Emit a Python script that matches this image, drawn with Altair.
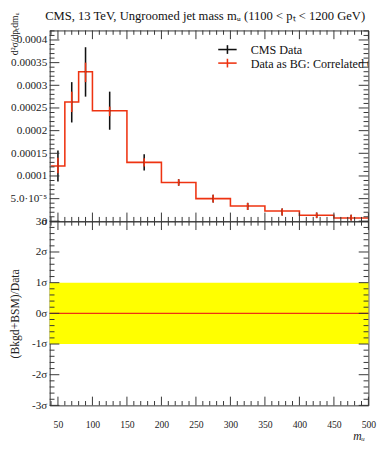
import altair as alt
import pandas as pd

# ---------------- data ----------------
bin_lo = [40, 60, 80, 100, 150, 200, 250, 300, 350, 400, 450]
bin_hi = [60, 80, 100, 150, 200, 250, 300, 350, 400, 450, 500]
bg_val = [0.000122, 0.000263, 0.000330, 0.000244, 0.000130, 0.0000857,
          0.0000500, 0.0000336, 0.0000229, 0.0000135, 0.0000071]
cms_lo = [0.000088, 0.000218, 0.000275, 0.000202, 0.000112, 0.0000786,
          0.0000414, 0.0000250, 0.0000129, 0.0000071, 0.0000020]
cms_hi = [0.000156, 0.000307, 0.000384, 0.000286, 0.000148, 0.0000928,
          0.0000585, 0.0000407, 0.0000285, 0.0000193, 0.0000143]
bg_lo = [0.000106, 0.000241, 0.000307, 0.000232, 0.000121, 0.0000786,
         0.0000414, 0.0000250, 0.0000129, 0.0000071, 0.0000020]
bg_hi = [0.000140, 0.000286, 0.000350, 0.000253, 0.000139, 0.0000928,
         0.0000585, 0.0000407, 0.0000285, 0.0000193, 0.0000143]

band_lo = [-1]
band_hi = [1]
ratio_zero = [0]

legend_labels = ["CMS Data", "Data as BG: Correlated 0%"]
title_text = "CMS, 13 TeV, Ungroomed jet mass m\u1d64 (1100 < p\u209c < 1200 GeV)"
top_ytitle = "d\u00b2\u03c3/dp\u209cdm\u1d64"
bot_ytitle = "(Bkgd+BSM)/Data"
xtitle = "m\u1d64"

x_major = [50, 100, 150, 200, 250, 300, 350, 400, 450, 500]
x_minor = [v for v in range(40, 501, 10) if v % 50]
top_major = [0.0, 0.00005, 0.0001, 0.00015, 0.0002, 0.00025, 0.0003, 0.00035, 0.0004]
top_minor = [i * 0.00001 for i in range(0, 43) if i % 5]
bot_major = [-3, -2, -1, 0, 1, 2, 3]
bot_minor = [round(-3 + 0.2 * i, 2) for i in range(31) if i % 5]

# ---------------- style ----------------
FONT = "Liberation Serif"
RED = "#EE3311"
BLACK = "#111111"
TICK = "#333333"
W, HT, HB = 329, 197, 190

xs = alt.Scale(domain=[38, 500], nice=False, zero=False)
ys_top = alt.Scale(domain=[0, 0.000421], nice=False, zero=False)
ys_bot = alt.Scale(domain=[-3, 3], nice=False, zero=False)

top_axis = alt.Axis(
    values=top_major,
    labelExpr="datum.value == 0 ? '0' : (abs(datum.value - 0.00005) < 1e-9 ? '5.0\u00b710\u207b\u2075' : format(datum.value, '~g'))",
    ticks=False, domain=False, grid=False,
    labelFont=FONT, labelFontSize=11.5, labelColor="#222", labelPadding=3,
    title=top_ytitle, titleFont=FONT, titleFontSize=10, titleFontWeight="normal",
    titleColor="#222", titleX=-31, titleY=25, titleAlign="left", titleBaseline="bottom",
    titleAngle=270,
)
bot_axis = alt.Axis(
    values=bot_major, labelExpr="datum.value + '\u03c3'",
    ticks=False, domain=False, grid=False,
    labelFont=FONT, labelFontSize=11.5, labelColor="#222", labelPadding=3,
    title=bot_ytitle, titleFont=FONT, titleFontSize=12, titleFontWeight="normal",
    titleColor="#222", titleX=-29, titleY=HB / 2, titleAlign="center", titleBaseline="bottom",
    titleAngle=270,
)
x_axis = alt.Axis(
    values=x_major, ticks=False, domain=False, grid=False, labelFlush=False,
    labelFont=FONT, labelFontSize=10, labelColor="#222", labelPadding=15,
    title=xtitle, titleFont=FONT, titleFontSize=12, titleFontWeight="normal",
    titleFontStyle="italic", titleColor="#222", titleX=W - 4, titleY=35,
    titleAlign="right", titleBaseline="alphabetic",
)

centers = [(a + b) / 2 for a, b in zip(bin_lo, bin_hi)]
bins_df = pd.DataFrame({"c": centers, "v": bg_val, "dlo": cms_lo, "dhi": cms_hi,
                        "blo": bg_lo, "bhi": bg_hi})
step_df = pd.DataFrame({"x": bin_lo + [bin_hi[-1]], "y": bg_val + [bg_val[-1]]})


def xticks(values, length, height, xaxis):
    df = pd.DataFrame({"v": values})
    base = alt.Chart(df).mark_rule(color=TICK, strokeWidth=1)
    return [
        base.encode(x=alt.X("v:Q", scale=xs, axis=xaxis), y=alt.value(height), y2=alt.value(height - length)),
        base.encode(x=alt.X("v:Q", scale=xs, axis=xaxis), y=alt.value(0), y2=alt.value(length)),
    ]


def yticks(values, scale, length, yaxis):
    df = pd.DataFrame({"v": values})
    base = alt.Chart(df).mark_rule(color=TICK, strokeWidth=1)
    return [
        base.encode(y=alt.Y("v:Q", scale=scale, axis=yaxis), x=alt.value(0), x2=alt.value(length)),
        base.encode(y=alt.Y("v:Q", scale=scale, axis=yaxis), x=alt.value(W), x2=alt.value(W - length)),
    ]


step = alt.Chart(step_df).mark_line(interpolate="step-after", color=RED, strokeWidth=1.6).encode(
    x=alt.X("x:Q", scale=xs, axis=None),
    y=alt.Y("y:Q", scale=ys_top, axis=top_axis),
)
cms_err = alt.Chart(bins_df).mark_rule(color=BLACK, strokeWidth=1.6).encode(
    x=alt.X("c:Q", scale=xs, axis=None),
    y=alt.Y("dlo:Q", scale=ys_top, axis=top_axis), y2="dhi:Q",
)
bg_err = alt.Chart(bins_df).mark_rule(color=RED, strokeWidth=1.6).encode(
    x=alt.X("c:Q", scale=xs, axis=None),
    y=alt.Y("blo:Q", scale=ys_top, axis=top_axis), y2="bhi:Q",
)

leg_layers = []
for i, (lab, col) in enumerate(zip(legend_labels, [BLACK, RED])):
    yy = 19.7 + 14 * i
    one = pd.DataFrame({"t": [lab]})
    leg_layers.append(alt.Chart(one).mark_rule(color=col, strokeWidth=1.6).encode(
        x=alt.value(174), x2=alt.value(193), y=alt.value(yy)))
    leg_layers.append(alt.Chart(one).mark_rule(color=col, strokeWidth=1.6).encode(
        x=alt.value(183.5), y=alt.value(yy - 4.5), y2=alt.value(yy + 4.5)))
    leg_layers.append(alt.Chart(one).mark_text(
        align="left", baseline="middle", font=FONT, fontSize=12.5, color=BLACK, clip=True).encode(
        x=alt.value(207.5), y=alt.value(yy + 1), text="t:N"))

title_mark = alt.Chart(pd.DataFrame({"t": [title_text]})).mark_text(
    align="center", baseline="middle", font=FONT, fontSize=13, color=BLACK).encode(
    x=alt.value(W / 2 - 4), y=alt.value(-15), text="t:N")

top = alt.layer(
    step, cms_err, bg_err,
    *xticks(x_major, 9, HT, None), *xticks(x_minor, 4.5, HT, None),
    *yticks(top_major, ys_top, 10, top_axis), *yticks(top_minor, ys_top, 5, top_axis),
    *leg_layers, title_mark,
).properties(width=W, height=HT)

band = alt.Chart(pd.DataFrame({"lo": band_lo, "hi": band_hi})).mark_rect(color="#FFFF00").encode(
    y=alt.Y("lo:Q", scale=ys_bot, axis=bot_axis), y2="hi:Q",
    x=alt.value(0), x2=alt.value(W),
)
zero = alt.Chart(pd.DataFrame({"z": ratio_zero})).mark_rule(color=RED, strokeWidth=1.3).encode(
    y=alt.Y("z:Q", scale=ys_bot, axis=bot_axis), x=alt.value(0), x2=alt.value(W),
)

bottom = alt.layer(
    band, zero,
    *xticks(x_major, 9, HB, x_axis), *xticks(x_minor, 4.5, HB, x_axis),
    *yticks(bot_major, ys_bot, 10, bot_axis), *yticks(bot_minor, ys_bot, 5, bot_axis),
).properties(width=W, height=HB)

chart = alt.vconcat(top, bottom, spacing=0, bounds="flush").properties(
    padding={"left": 0, "top": -6, "right": 5, "bottom": 5},
).configure_view(stroke="#333", strokeWidth=1).configure_concat(spacing=0)

chart.save("out.html", embed_options={"renderer": "svg", "actions": False})
